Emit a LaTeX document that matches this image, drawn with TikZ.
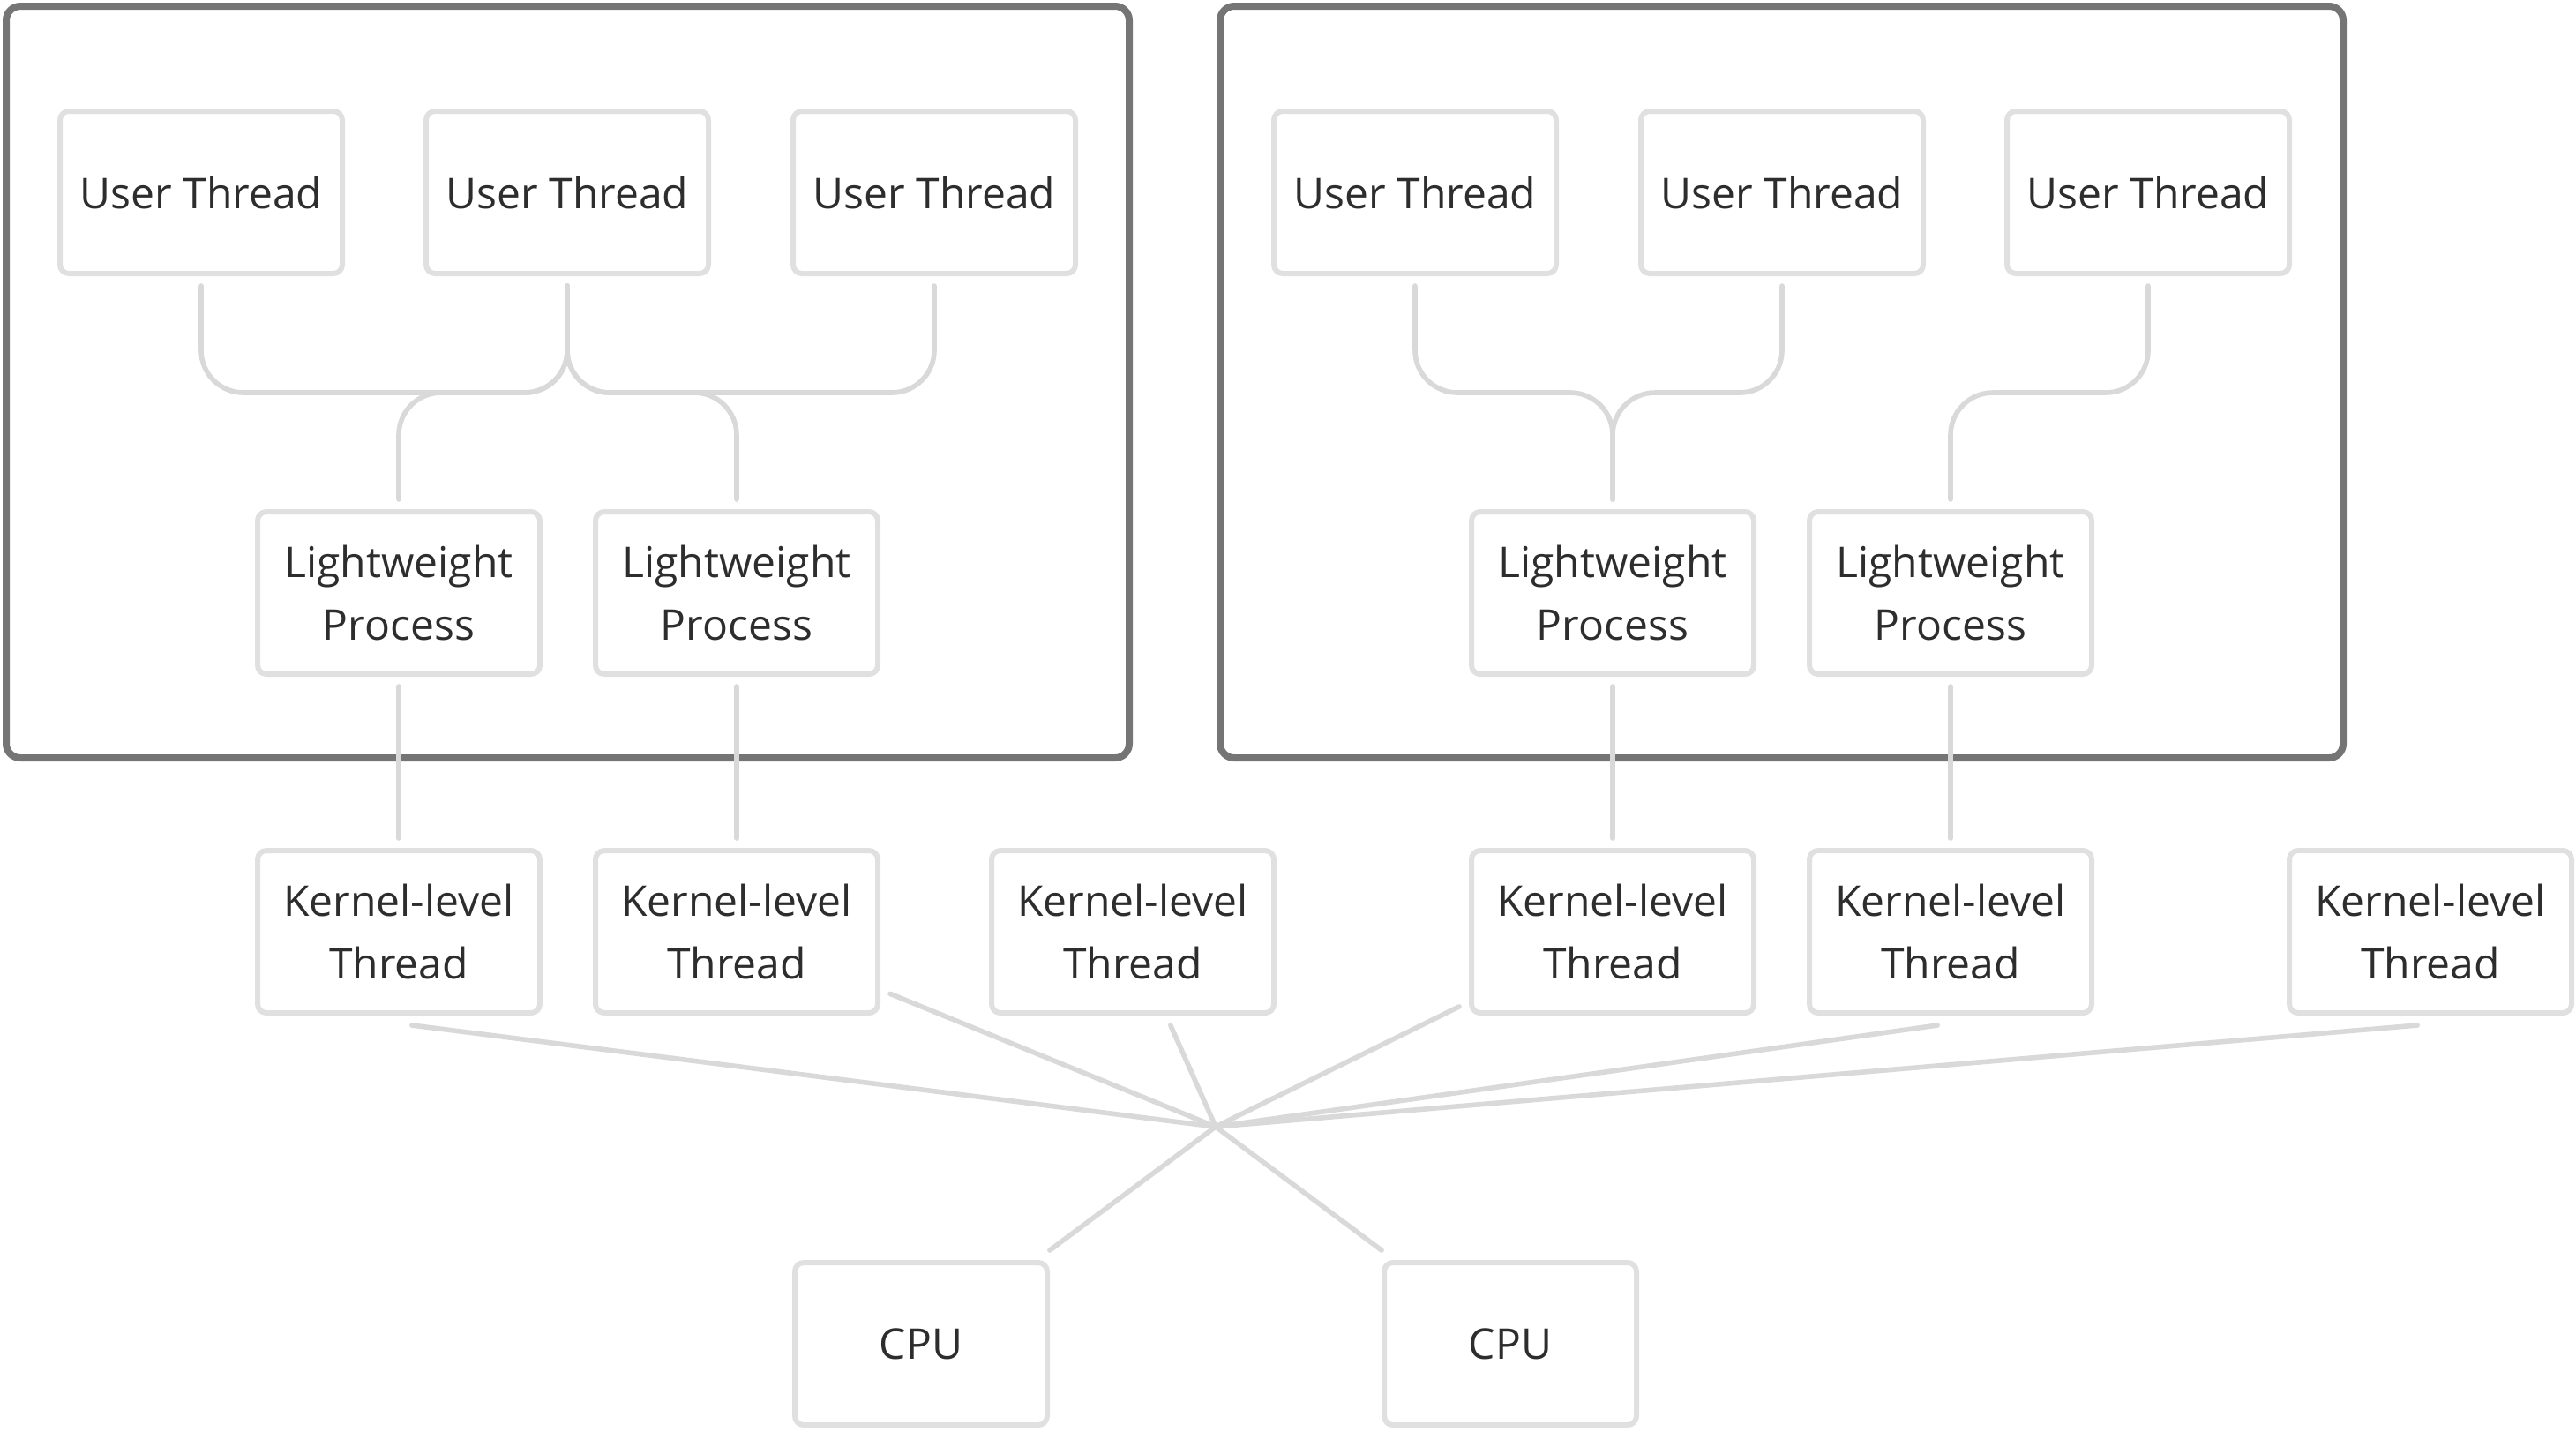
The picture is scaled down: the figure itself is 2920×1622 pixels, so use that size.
\documentclass[tikz,border=0pt]{standalone}
\usepackage{amsmath,amssymb}
\usepackage{fontspec}
\setmainfont{Open Sans}

\begin{document}
\begin{tikzpicture}[x=0.25pt,y=0.25pt,yscale=-1,xscale=1,
  thread/.style={draw={rgb, 255:red, 224; green, 224; blue, 224 }, line width=1.5pt, rounded corners=2.5pt, fill=white, minimum width=80pt, minimum height=46pt, inner sep=0pt, outer sep=3.5pt, align=center, text={rgb, 255:red, 45; green, 45; blue, 45 }, font=\fontsize{12}{17.7}\selectfont},
  cpu/.style={thread, minimum width=71.5pt},
  frame/.style={draw={rgb, 255:red, 117; green, 117; blue, 117 }, line width=2pt, rounded corners=4pt},
  link/.style={draw={rgb, 255:red, 217; green, 217; blue, 217 }, line width=1.4pt, line cap=round},
  bundle/.style={link, rounded corners=12pt}]
\path[use as bounding box] (0,0) rectangle (2920,1622);

%Shape: Rectangle
\draw[frame] (7,7) rectangle (1280,859);
%Shape: Rectangle
\draw[frame] (1383,7) rectangle (2656,859);

% Text Node
\node[thread] (ut1) at (228,218) {User Thread};
\node[thread] (ut2) at (643,218) {User Thread};
\node[thread] (ut3) at (1059,218) {User Thread};
\node[thread] (ut4) at (1604,218) {User Thread};
\node[thread] (ut5) at (2020,218) {User Thread};
\node[thread] (ut6) at (2435,218) {User Thread};
% Text Node
\node[thread] (lwp1) at (452,672) {Lightweight\\Process};
\node[thread] (lwp2) at (835,672) {Lightweight\\Process};
\node[thread] (lwp3) at (1828,672) {Lightweight\\Process};
\node[thread] (lwp4) at (2211,672) {Lightweight\\Process};
% Text Node
\node[thread] (klt1) at (452,1056) {Kernel-level\\Thread};
\node[thread] (klt2) at (835,1056) {Kernel-level\\Thread};
\node[thread] (klt3) at (1284,1056) {Kernel-level\\Thread};
\node[thread] (klt4) at (1828,1056) {Kernel-level\\Thread};
\node[thread] (klt5) at (2211,1056) {Kernel-level\\Thread};
\node[thread] (klt6) at (2755,1056) {Kernel-level\\Thread};
% Text Node
\node[cpu] (cpu1) at (1044,1523) {CPU};
\node[cpu] (cpu2) at (1712,1523) {CPU};

\coordinate (jl) at (643,445);
\coordinate (jr) at (1828,445);
\coordinate (jr6) at (2323,445);
\coordinate (hub) at (1378,1277);

%Curve Lines
\draw[bundle] (ut1.south) |- (jl) -- (ut2.south);
\draw[bundle] (ut3.south) |- (jl) -- (ut2.south);
\draw[bundle] (lwp1.north) |- (jl) -- (ut2.south);
\draw[bundle] (lwp2.north) |- (jl) -- (ut2.south);
\draw[bundle] (ut4.south) |- (jr) -- (lwp3.north);
\draw[bundle] (ut5.south) |- (jr) -- (lwp3.north);
\draw[bundle] (ut6.south) |- (jr6) -| (lwp4.north);

%Straight Lines
\draw[link] (lwp1) -- (klt1);
\draw[link] (lwp2) -- (klt2);
\draw[link] (lwp3) -- (klt4);
\draw[link] (lwp4) -- (klt5);
%Straight Lines
\draw[link] (klt1.-82) -- (hub);
\draw[link] (klt2.-22) -- (hub);
\draw[link] (klt3.-68) -- (hub);
\draw[link] (klt4.206) -- (hub);
\draw[link] (klt5.-98) -- (hub);
\draw[link] (klt6.-98) -- (hub);
\draw[link] (hub) -- (cpu1.36);
\draw[link] (hub) -- (cpu2.144);

\end{tikzpicture}
\end{document}
